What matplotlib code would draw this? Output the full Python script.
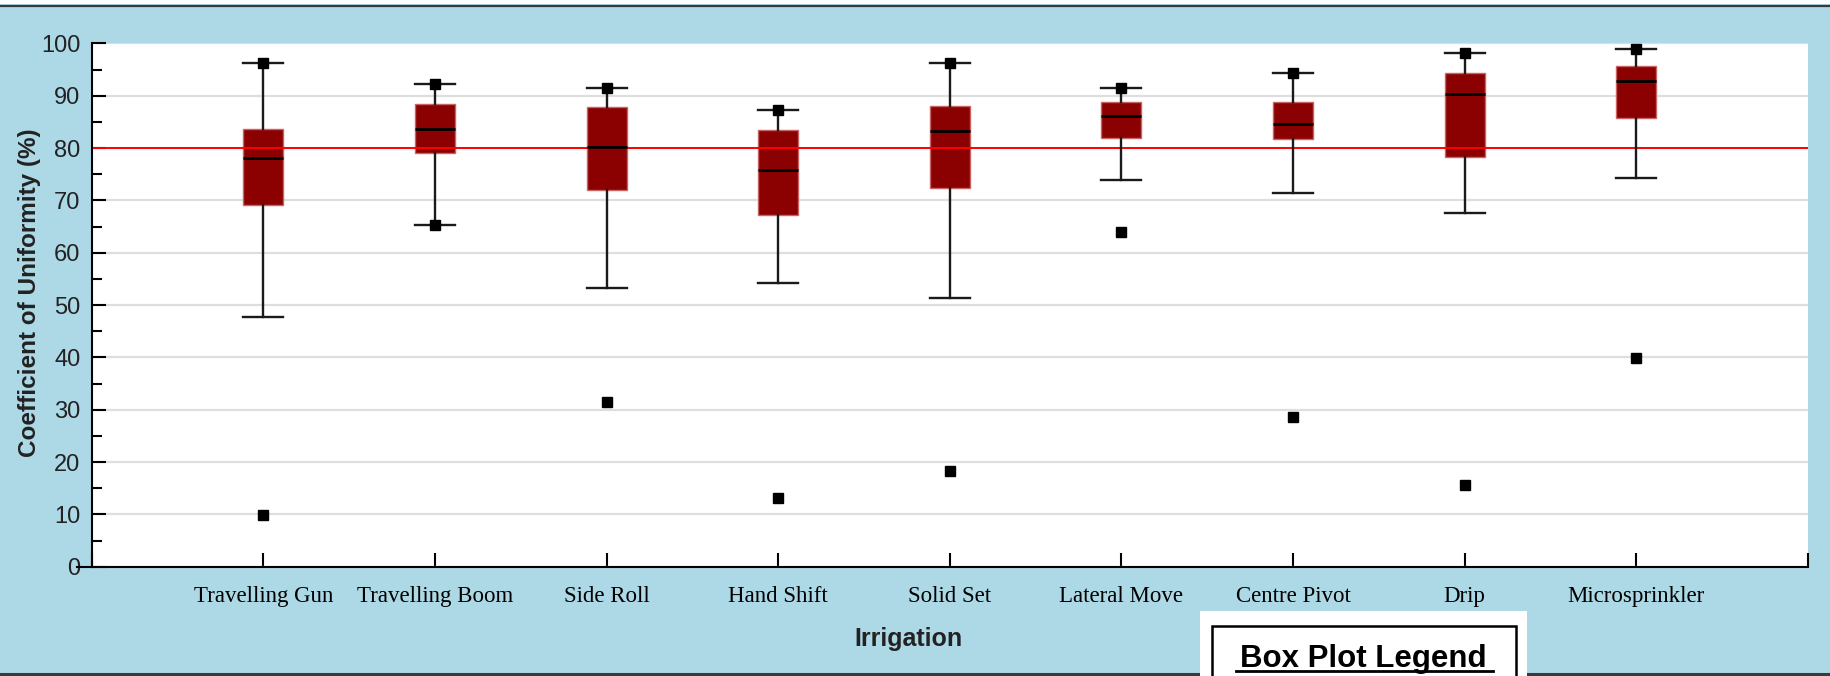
import matplotlib
matplotlib.use("Agg")
import matplotlib.pyplot as plt
from matplotlib.patches import Rectangle
from matplotlib.lines import Line2D
from matplotlib.ticker import MultipleLocator

categories = ["Travelling Gun", "Travelling Boom", "Side Roll", "Hand Shift", "Solid Set",
              "Lateral Move", "Centre Pivot", "Drip", "Microsprinkler"]
whisker_low = [47.7, 65.4, 53.3, 54.3, 51.3, 73.9, 71.4, 67.6, 74.3]
q1 = [69.1, 79.1, 72.0, 67.2, 72.4, 82.0, 81.7, 78.3, 85.8]
median = [78.1, 83.6, 80.3, 75.8, 83.2, 86.2, 84.7, 90.3, 92.9]
q3 = [83.7, 88.5, 87.8, 83.4, 88.1, 88.9, 88.9, 94.4, 95.6]
whisker_high = [96.2, 92.2, 91.4, 87.3, 96.2, 91.4, 94.3, 98.1, 98.9]
minimum = [9.8, 65.4, 31.4, 13.1, 18.3, 63.9, 28.7, 15.7, 39.9]
maximum = [96.2, 92.2, 91.4, 87.3, 96.2, 91.4, 94.3, 98.1, 98.9]
target = 80
y_ticks = [0, 10, 20, 30, 40, 50, 60, 70, 80, 90, 100]

BLUE = "#ADD8E6"
fig = plt.figure(figsize=(18.31, 6.76), dpi=100)
fig.patch.set_facecolor(BLUE)
ax = fig.add_axes([0.0501, 0.1617, 0.9373, 0.774])
ax.set_facecolor("white")

positions = list(range(1, len(categories) + 1))
stats = []
for i, c in enumerate(categories):
    stats.append(dict(label=c, whislo=whisker_low[i], q1=q1[i], med=median[i],
                      q3=q3[i], whishi=whisker_high[i], fliers=[]))

w = 0.233
ax.bxp(stats, positions=positions, widths=w, capwidths=w, patch_artist=True,
       showfliers=False,
       boxprops=dict(facecolor="#8B0000", edgecolor="#c86464", linewidth=1, zorder=2),
       medianprops=dict(color="black", linewidth=2, zorder=4),
       whiskerprops=dict(color="#1a1a1a", linewidth=1.7, zorder=3),
       capprops=dict(color="#1a1a1a", linewidth=1.7, zorder=3))

ax.axhline(target, color="red", linewidth=1.4, zorder=2.5)
ax.plot(positions, maximum, "s", color="black", markersize=7, zorder=5)
ax.plot(positions, minimum, "s", color="black", markersize=7, zorder=5)

ax.set_xlim(0, 10)
ax.set_ylim(0, 100)
ax.set_yticks(y_ticks)
ax.yaxis.set_minor_locator(MultipleLocator(5))
ax.set_xticks(range(0, 11))
ax.set_xticklabels([""] + categories + [""], fontfamily="Liberation Serif", fontsize=16.5)
for lab in ax.get_yticklabels():
    lab.set_fontfamily("Liberation Sans")
    lab.set_fontsize(17)
    lab.set_color("#222222")

ax.tick_params(axis="y", which="major", direction="in", length=10, width=1.5, pad=8)
ax.tick_params(axis="y", which="minor", direction="in", length=7, width=1.5)
ax.tick_params(axis="x", which="major", direction="in", length=10, width=1.5, pad=14)
ax.tick_params(axis="x", which="minor", bottom=False)

ax.spines["top"].set_visible(False)
ax.spines["right"].set_visible(False)
ax.spines["left"].set_linewidth(1.5)
ax.spines["bottom"].set_linewidth(1.5)

ax.yaxis.grid(True, color="#dedede", linewidth=1.6)
ax.set_axisbelow(True)

# extension of x axis line to the left at y=0
ax.plot([-0.0086, 0], [0, 0], transform=ax.get_yaxis_transform(), color="black",
        linewidth=1.5, clip_on=False)

ax.set_ylabel("Coefficient of Uniformity (%)", fontfamily="Liberation Sans",
              fontweight="bold", fontsize=17.5, color="#222222")
ax.yaxis.set_label_coords(-0.0295, 0.524)
ax.set_xlabel("Irrigation", fontfamily="Liberation Sans", fontweight="bold",
              fontsize=18, color="#222222")
ax.xaxis.set_label_coords(0.4756, -0.116)

W, H = 1831, 676
# top white strip and dark border
fig.add_artist(Rectangle((0, 1 - 4 / H), 1, 4 / H, transform=fig.transFigure,
                         facecolor="white", edgecolor="none", zorder=1))
fig.add_artist(Line2D([0, 1], [1 - 5.5 / H, 1 - 5.5 / H], transform=fig.transFigure,
                      color="#3a3a3a", linewidth=1.6))
fig.add_artist(Line2D([0, 1], [2.5 / H, 2.5 / H], transform=fig.transFigure,
                      color="#3a3a3a", linewidth=2.2))

# Box plot legend box (partially visible)
fig.add_artist(Rectangle((1200 / W, 0), 327 / W, 65 / H, transform=fig.transFigure,
                         facecolor="white", edgecolor="none", zorder=3))
fig.add_artist(Rectangle((1212 / W, -0.05), 304 / W, 0.05 + 50 / H, transform=fig.transFigure,
                         facecolor="none", edgecolor="black", linewidth=1.8, zorder=4))
fig.text(1363 / W, 9 / H, "Box Plot Legend", fontfamily="Liberation Sans",
         fontweight="bold", fontsize=22.5, ha="center", va="baseline", zorder=5)
fig.add_artist(Line2D([1236 / W, 1493 / W], [5 / H, 5 / H], transform=fig.transFigure,
                      color="black", linewidth=2, zorder=5))

fig.savefig("out.png", dpi=100, facecolor=fig.get_facecolor())
